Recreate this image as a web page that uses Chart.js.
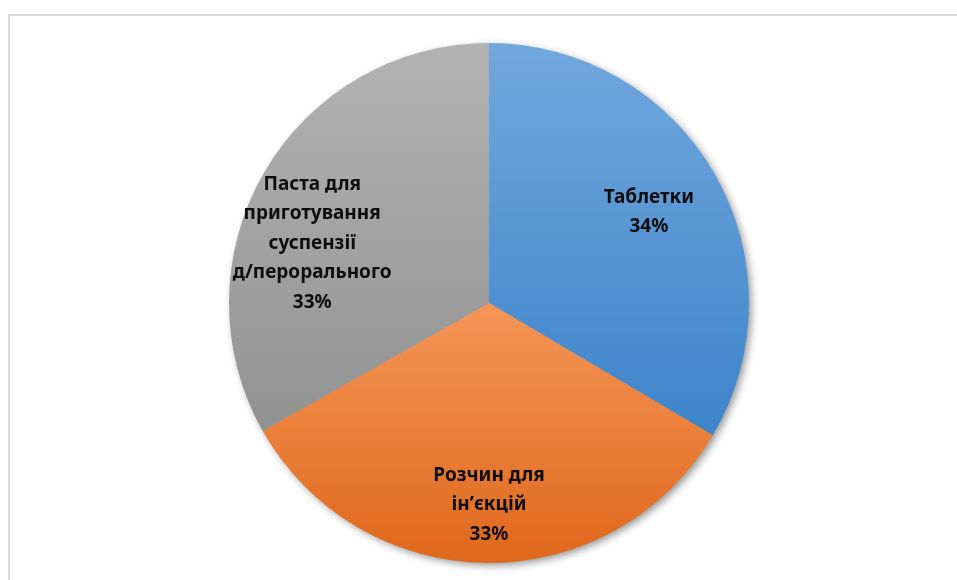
<!DOCTYPE html>
<html>
<head>
<meta charset="utf-8">
<script src="https://cdn.jsdelivr.net/npm/chart.js@4.4.0/dist/chart.umd.min.js"></script>
<style>
  html, body { margin: 0; padding: 0; background: #fff; overflow: hidden; }
  #frame {
    position: absolute; left: 8px; top: 14px; width: 1000px; height: 700px;
    border: 2px solid #d9d9d9; box-sizing: border-box;
  }
  #wrap { position: absolute; left: 0; top: 0; width: 957px; height: 580px; }
</style>
</head>
<body>
<div id="frame"></div>
<div id="wrap"><canvas id="chart" width="957" height="580"></canvas></div>
<script>
// Chart data
var categories = ['Таблетки', 'Розчин для ін’єкцій', 'Паста для приготування суспензії д/перорального'];
var labelLines = [
  ['Таблетки'],
  ['Розчин для', 'ін’єкцій'],
  ['Паста для', 'приготування', 'суспензії', 'д/перорального']
];
var shares = [33.5, 33.3, 33.2];

// Gradient colours per slice (top, bottom)
var topColors = ['#71a8dd', '#f59658', '#b3b3b3'];
var bottomColors = ['#3d84ca', '#df681b', '#929292'];

// label anchor offsets as fraction of radius (dx, dy from centre)
var labelOffsets = [[0.615, -0.35], [0, 0.777], [-0.68, -0.23]];

var total = shares.reduce(function (a, b) { return a + b; }, 0);

function sliceRange(index) {
  var start = 0;
  for (var i = 0; i < index; i++) start += shares[i];
  return [start / total * 2 * Math.PI, (start + shares[index]) / total * 2 * Math.PI];
}

function sliceGradient(context) {
  var chart = context.chart;
  var area = chart.chartArea;
  if (!area) return topColors[context.dataIndex];
  var cx = (area.left + area.right) / 2;
  var cy = (area.top + area.bottom) / 2;
  var r = Math.min(area.right - area.left, area.bottom - area.top) / 2;
  var range = sliceRange(context.dataIndex);
  // y positions, angle measured clockwise from top
  var ys = [cy, cy - r * Math.cos(range[0]), cy - r * Math.cos(range[1])];
  if (range[0] <= 0 && range[1] >= 0) ys.push(cy - r);
  if (range[0] <= Math.PI && range[1] >= Math.PI) ys.push(cy + r);
  var y0 = Math.min.apply(null, ys);
  var y1 = Math.max.apply(null, ys);
  var g = chart.ctx.createLinearGradient(0, y0, 0, y1);
  g.addColorStop(0, topColors[context.dataIndex]);
  g.addColorStop(1, bottomColors[context.dataIndex]);
  return g;
}

var shadowPlugin = {
  id: 'pieShadow',
  beforeDatasetsDraw: function (chart) {
    var arc = chart.getDatasetMeta(0).data[0];
    if (!arc) return;
    var ctx = chart.ctx;
    ctx.save();
    ctx.shadowColor = 'rgba(0, 0, 0, 0.45)';
    ctx.shadowBlur = 9;
    ctx.shadowOffsetX = 3;
    ctx.shadowOffsetY = 3;
    ctx.fillStyle = '#a0a0a0';
    ctx.beginPath();
    ctx.arc(arc.x, arc.y, arc.outerRadius - 1, 0, 2 * Math.PI);
    ctx.fill();
    ctx.restore();
  }
};

var labelPlugin = {
  id: 'sliceLabels',
  afterDatasetsDraw: function (chart) {
    var meta = chart.getDatasetMeta(0);
    var ctx = chart.ctx;
    ctx.save();
    ctx.font = 'bold 19px "Noto Sans", sans-serif';
    ctx.fillStyle = '#0d0d0d';
    ctx.textAlign = 'center';
    ctx.textBaseline = 'middle';
    var lineHeight = 29.5;
    meta.data.forEach(function (arc, i) {
      var lines = labelLines[i].concat([Math.round(shares[i] / total * 100) + '%']);
      var x = arc.x + labelOffsets[i][0] * arc.outerRadius;
      var y = arc.y + labelOffsets[i][1] * arc.outerRadius;
      var startY = y - (lines.length - 1) * lineHeight / 2;
      lines.forEach(function (line, k) {
        ctx.fillText(line, x, startY + k * lineHeight);
      });
    });
    ctx.restore();
  }
};

var ctx = document.getElementById('chart').getContext('2d');
window.pieChart = new Chart(ctx, {
  type: 'pie',
  data: {
    labels: categories,
    datasets: [
      {
        data: shares,
        backgroundColor: sliceGradient,
        borderWidth: 0
      }
    ]
  },
  options: {
    responsive: false,
    animation: false,
    layout: {
      padding: { left: 229, right: 208, top: 43, bottom: 17 }
    },
    plugins: {
      legend: { display: false },
      tooltip: { enabled: false }
    }
  },
  plugins: [shadowPlugin, labelPlugin]
});
</script>
</body>
</html>
